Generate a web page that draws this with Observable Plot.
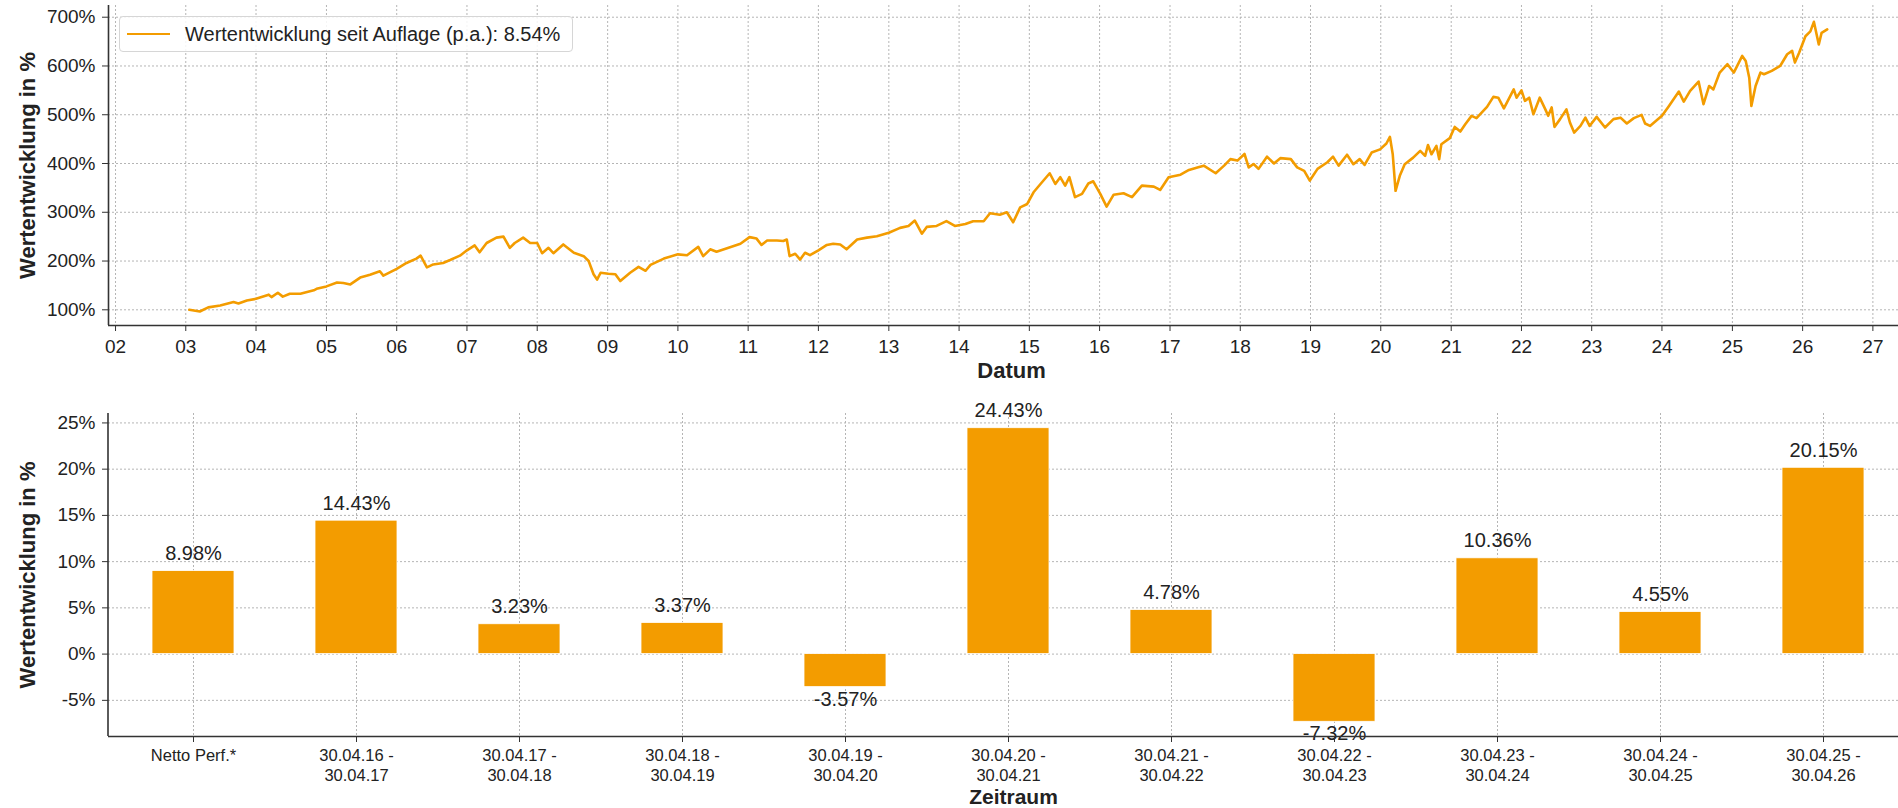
<!DOCTYPE html>
<html>
<head>
<meta charset="utf-8">
<script src="https://cdn.jsdelivr.net/npm/d3@7"></script>
<script src="https://cdn.jsdelivr.net/npm/@observablehq/plot@0.6"></script>
<style>
  body { margin: 0; background: #fff; font-family: "Liberation Sans", Arial, sans-serif; }
  #wrap { position: relative; width: 1898px; height: 808px; overflow: hidden; }
  #wrap svg { display: block; }
  #legend { position: absolute; left: 119px; top: 16px; width: 452px; height: 34px;
    border: 1px solid #d6d6d6; border-radius: 4px; background: rgba(255,255,255,0.85);
    display: flex; align-items: center; font-size: 20px; color: #222; }
  #legend .swatch { width: 43px; height: 0; border-top: 2.4px solid #f39c00; margin-left: 7px; margin-right: 15px; }
</style>
</head>
<body>
<div id="wrap"></div>
<script>
// ---------- data ----------
const lineYears = [
  2003.05,2003.2,2003.32,2003.49,2003.68,2003.75,2003.87,2004.0,2004.18,2004.22,2004.31,2004.38,2004.48,2004.63,2004.82,2004.86,
  2005.0,2005.15,2005.24,2005.34,2005.48,2005.62,2005.76,2005.81,2006.0,2006.14,2006.28,2006.34,2006.43,2006.52,2006.66,2006.76,
  2006.9,2007.0,2007.11,2007.18,2007.28,2007.42,2007.52,2007.61,2007.68,2007.8,2007.9,2008.0,2008.07,2008.16,2008.23,2008.37,
  2008.52,2008.66,2008.73,2008.8,2008.85,2008.9,2009.01,2009.11,2009.18,2009.32,2009.44,2009.54,2009.61,2009.8,2010.0,2010.13,
  2010.29,2010.36,2010.46,2010.55,2010.7,2010.89,2011.02,2011.12,2011.19,2011.27,2011.41,2011.5,2011.55,2011.59,2011.67,2011.74,
  2011.81,2011.88,2012.0,2012.12,2012.21,2012.31,2012.4,2012.55,2012.69,2012.83,2013.0,2013.16,2013.28,2013.37,2013.47,2013.54,
  2013.68,2013.82,2013.94,2014.09,2014.2,2014.35,2014.44,2014.58,2014.68,2014.77,2014.87,2014.97,2015.06,2015.18,2015.29,2015.37,
  2015.44,2015.51,2015.57,2015.65,2015.75,2015.84,2015.91,2016.01,2016.1,2016.2,2016.34,2016.46,2016.6,2016.77,2016.86,2016.98,
  2017.15,2017.27,2017.39,2017.48,2017.65,2017.77,2017.86,2017.96,2018.06,2018.12,2018.19,2018.26,2018.38,2018.48,2018.57,2018.72,
  2018.81,2018.91,2018.99,2019.1,2019.24,2019.32,2019.4,2019.52,2019.61,2019.7,2019.77,2019.87,2019.99,2020.08,2020.13,2020.17,
  2020.21,2020.27,2020.34,2020.46,2020.56,2020.63,2020.67,2020.72,2020.79,2020.83,2020.86,2020.98,2021.05,2021.13,2021.2,2021.29,
  2021.36,2021.51,2021.6,2021.67,2021.75,2021.89,2021.93,2022.0,2022.05,2022.11,2022.17,2022.26,2022.34,2022.38,2022.43,2022.47,
  2022.55,2022.64,2022.69,2022.75,2022.84,2022.91,2022.97,2023.07,2023.19,2023.31,2023.41,2023.5,2023.6,2023.71,2023.76,2023.83,
  2024.0,2024.09,2024.24,2024.31,2024.4,2024.52,2024.59,2024.67,2024.73,2024.82,2024.93,2025.02,2025.14,2025.19,2025.24,2025.27,
  2025.33,2025.4,2025.45,2025.56,2025.68,2025.78,2025.85,2025.89,2025.95,2026.04,2026.11,2026.16,2026.23,2026.27,2026.35
];
const lineValues = [
  100,96.6,105,109,116,113,119,122.5,131,126,135,127,133,133,140,143,
  148,156,155,152,166,172,179,170,184,196,205,211,187,193,196,202,
  211,222,232,218,237,248,250,227,237,248,237,237,216,227,216,234,
  217,210,200,173,162,176,174,173,159,176,188,180,192,205,213.7,212,
  229,210,224,219,226,235.5,249,246,233,242,242,241,244,210,215,203,
  217,212,222,233,235.5,234,224,244,248,251,258,268,272,283,256,270,
  272,282,272,276,281.6,281.6,298,295,300,279.5,310,317,341,361.5,380,358,
  372,354.6,372,331,337.6,359,363.5,337.6,311.6,336,339,331,354.6,352.6,345.8,371.7,
  377,386.7,392,395.6,380,395.6,409,406,419.5,392,399,389,414,400,411,409,
  392,385,365,389,402.5,414,395.6,418,398.6,409,397,422.5,429,441,454.6,419,
  344,374.7,398.6,412,426,415.7,438,419,436,409,439.6,452,475,465.6,480.6,497.7,
  493,516,536.6,535,513,552,535,550,528.4,535,501,535,511,497.7,515,475,
  491,511,484,463.5,477,494,477,495.6,473.8,491,494,482,493,499.7,482,477,
  497.7,516,547.5,527,549,568,521.6,559,552,586.5,603.6,586.5,620.6,610,576,518,
  559,586.5,583,590,600,624,631,607,627,661,671,690.5,644,668,675
];
const legendLabel = "Wertentwicklung seit Auflage (p.a.): 8.54%";
const yearTicks = d3.range(2002, 2028);
const topPctTicks = [100, 200, 300, 400, 500, 600, 700];

const periodLabels = [
  "Netto Perf.*",
  "30.04.16 -\n30.04.17",
  "30.04.17 -\n30.04.18",
  "30.04.18 -\n30.04.19",
  "30.04.19 -\n30.04.20",
  "30.04.20 -\n30.04.21",
  "30.04.21 -\n30.04.22",
  "30.04.22 -\n30.04.23",
  "30.04.23 -\n30.04.24",
  "30.04.24 -\n30.04.25",
  "30.04.25 -\n30.04.26"
];
const periodValues = [8.98, 14.43, 3.23, 3.37, -3.57, 24.43, 4.78, -7.32, 10.36, 4.55, 20.15];
const bottomPctTicks = [-5, 0, 5, 10, 15, 20, 25];

const yTitle = "Wertentwicklung in %";
const xTitleTop = "Datum";
const xTitleBottom = "Zeitraum";

// ---------- helpers ----------
const ORANGE = "#f39c00";
const GRID = { stroke: "#b5b5b5", strokeOpacity: 1, strokeDasharray: "2,2", strokeWidth: 1 };
const SPINE = { stroke: "#333", strokeWidth: 1.6 };
const FONT = "'Liberation Sans', Arial, sans-serif";
function toDate(y) {
  const yr = Math.floor(y);
  const a = Date.UTC(yr, 0, 1), b = Date.UTC(yr + 1, 0, 1);
  return new Date(a + (y - yr) * (b - a));
}
const lineDates = lineYears.map(toDate);
const yearDates = yearTicks.map(y => new Date(Date.UTC(y, 0, 1)));
const xMin = toDate(2001.9), xMax = toDate(2027.45);
const yTopMin = 67.8, yTopMax = 724;
const yBotMin = -8.91, yBotMax = 26.02;

// ---------- top chart ----------
const topPlot = Plot.plot({
  width: 1898, height: 395,
  marginLeft: 108, marginRight: 0, marginTop: 5, marginBottom: 70,
  style: { fontFamily: FONT, fontSize: "19px", color: "#222", background: "transparent", overflow: "visible" },
  x: { type: "utc", domain: [xMin, xMax], range: [108, 1904] },
  y: { domain: [yTopMin, yTopMax] },
  marks: [
    Plot.gridX(yearDates, GRID),
    Plot.gridY(topPctTicks, GRID),
    Plot.line(d3.range(lineDates.length), {
      x: i => lineDates[i], y: i => lineValues[i],
      stroke: ORANGE, strokeWidth: 2.6, strokeLinejoin: "round"
    }),
    Plot.ruleX([xMin], SPINE),
    Plot.ruleY([yTopMin], SPINE),
    Plot.axisY(topPctTicks, { tickFormat: d => d + "%", tickSize: 6, tickPadding: 7, label: null, fontSize: 19, stroke: "#333" }),
    Plot.axisX(yearDates, { tickFormat: d3.utcFormat("%y"), tickSize: 6, tickPadding: 8, label: null, fontSize: 19, stroke: "#333" }),
    Plot.text([yTitle], { frameAnchor: "left", dx: -81, rotate: -90, textAnchor: "middle", lineAnchor: "middle",
      fontSize: 22, fontWeight: "bold", fill: "#222" }),
    Plot.text([xTitleTop], { frameAnchor: "bottom", dy: 45, dx: 8, textAnchor: "middle", lineAnchor: "middle",
      fontSize: 22, fontWeight: "bold", fill: "#222" })
  ]
});

// ---------- bottom chart ----------
const idx = d3.range(periodValues.length);
const bottomPlot = Plot.plot({
  width: 1898, height: 413,
  marginLeft: 108, marginRight: 0, marginTop: 18, marginBottom: 72,
  style: { fontFamily: FONT, fontSize: "19px", color: "#222", background: "transparent", overflow: "visible" },
  x: { type: "band", domain: periodLabels, range: [108, 1907], paddingInner: 0.5, paddingOuter: 0.25, align: 0.5 },
  y: { domain: [yBotMin, yBotMax] },
  marks: [
    Plot.gridX(periodLabels, GRID),
    Plot.gridY(bottomPctTicks, GRID),
    Plot.barY(idx, { x: i => periodLabels[i], y: i => periodValues[i], fill: ORANGE, stroke: "#fff", strokeWidth: 0.8 }),
    Plot.text(idx, { filter: i => periodValues[i] >= 0, x: i => periodLabels[i], y: i => periodValues[i],
      text: i => periodValues[i].toFixed(2) + "%", dy: -17.5, fontSize: 20, fill: "#222" }),
    Plot.text(idx, { filter: i => periodValues[i] < 0, x: i => periodLabels[i], y: i => periodValues[i],
      text: i => periodValues[i].toFixed(2) + "%", dy: 12, fontSize: 20, fill: "#222" }),
    Plot.ruleY([yBotMin], SPINE),
    Plot.axisY(bottomPctTicks, { tickFormat: d => d + "%", tickSize: 6, tickPadding: 7, label: null, fontSize: 19, stroke: "#333" }),
    Plot.axisX(periodLabels, { tickSize: 6, tickPadding: 5, label: null, fontSize: 16.5, lineHeight: 1.18, stroke: "#333" }),
    Plot.text([yTitle], { frameAnchor: "left", dx: -81, rotate: -90, textAnchor: "middle", lineAnchor: "middle",
      fontSize: 22, fontWeight: "bold", fill: "#222" }),
    Plot.text([xTitleBottom], { frameAnchor: "bottom", dy: 61, dx: 10, textAnchor: "middle", lineAnchor: "middle",
      fontSize: 21, fontWeight: "bold", fill: "#222" })
  ]
});

const wrap = document.getElementById("wrap");
wrap.appendChild(topPlot);
wrap.appendChild(bottomPlot);
// left spine of bottom chart (frame edge)
(function addSpine(svg, top, bottom) {
  const ns = "http://www.w3.org/2000/svg";
  const l = document.createElementNS(ns, "line");
  l.setAttribute("x1", 108); l.setAttribute("x2", 108);
  l.setAttribute("y1", top); l.setAttribute("y2", bottom);
  l.setAttribute("stroke", "#333"); l.setAttribute("stroke-width", 1.6);
  svg.appendChild(l);
})(bottomPlot, 18, 341);

// legend (inside top plot area)
const legend = document.createElement("div");
legend.id = "legend";
legend.innerHTML = '<div class="swatch"></div><span></span>';
legend.querySelector("span").textContent = legendLabel;
wrap.appendChild(legend);
</script>
</body>
</html>
